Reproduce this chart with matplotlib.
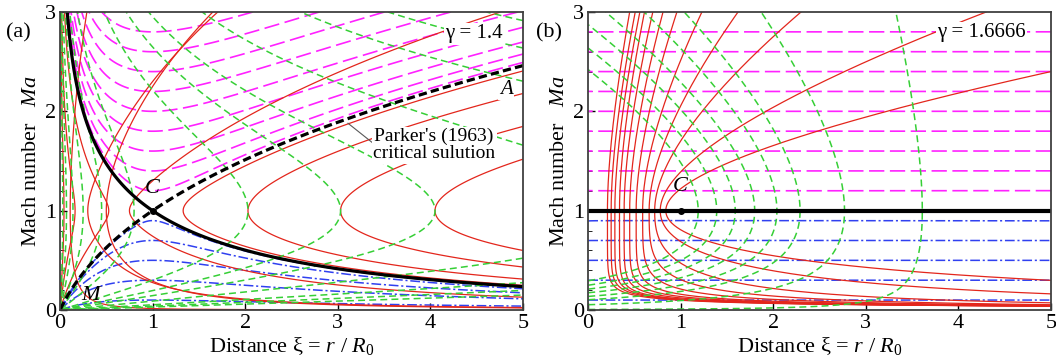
import numpy as np
import matplotlib.pyplot as plt

plt.rcParams['font.family'] = ['Liberation Serif', 'DejaVu Serif']
plt.rcParams['mathtext.fontset'] = 'custom'
plt.rcParams['mathtext.rm'] = 'Liberation Serif'
plt.rcParams['mathtext.it'] = 'Liberation Serif:italic'
plt.rcParams['lines.scale_dashes'] = False

# ===== values =====
gammas = [1.4, 1.6666]
panel_tags = ['(a)', '(b)']
gamma_texts = ['γ = 1.4', 'γ = 1.6666']

# Mach number where the magenta (supersonic) / blue (subsonic) curves cross xi = 1
ma_super = [1.2, 1.4, 1.6, 1.8, 2.0, 2.2, 2.4, 2.6, 2.8]
ma_sub = [0.1, 0.3, 0.5, 0.7, 0.9]

# (a) red curves through the right sector: turning xi at Ma = 1
red_turn_a = [1.33, 2.03, 3.03, 4.05]
# (a) other red curves: two points (xi, Ma) each one goes through
red_pairs_a = [((0.11, 1.0), (0.29, 3.0)),
               ((0.3, 1.0), (1.0, 2.3)),
               ((0.5, 1.0), (1.65, 3.0)),
               ((0.75, 1.0), (2.9, 2.35))]
# (a) green curves: xi where they turn at Ma = 1
green_turn_a = [0.03, 0.07, 0.14, 0.25, 0.45, 0.8, 2.03, 3.03, 4.05,
                6.5, 11.0, 15.0, 19.5]

# (b) red curves: turning xi at Ma = 1 and xi where the upper branch reaches Ma = 3
red_turn_b = [0.21, 0.25, 0.29, 0.34, 0.39, 0.45, 0.52, 0.59, 0.66, 0.72, 0.78, 0.84]
red_top_b = [0.45, 0.51, 0.56, 0.61, 0.70, 0.81, 0.96, 1.23, 1.62, 2.3, 4.3, 8.2]
# (b) green curves: turning xi at Ma = 1, common energy level
green_turn_b = [1.19, 1.39, 1.59, 1.8, 2.04, 2.29, 2.77, 3.61]
green_energy_b = -0.25

critical_ma = 1.0


def alpha(g):
    return 2 * (g - 1) / (g + 1)


def enth(ma, g):
    return 0.5 * ma ** 2 + 1 / (g - 1)


def phi(ma, g):
    return ma ** (-alpha(g)) * enth(ma, g) / enth(1.0, g)


def energy(xi, ma, g, a=1.0):
    return 0.5 * a * (ma * xi ** 2) ** (-alpha(g)) * enth(ma, g) - 1 / xi


def flux(xi, ma, g, e):
    return 2 * (e + 1 / xi) * (ma * xi ** 2) ** alpha(g) / enth(ma, g)


def e_crit(g):
    return enth(1.0, g) / 2 - 1


def through(p1, p2, g):
    # (a, e) of the solution curve passing through two points
    k1 = (p1[1] * p1[0] ** 2) ** (-alpha(g)) * enth(p1[1], g)
    k2 = (p2[1] * p2[0] ** 2) ** (-alpha(g)) * enth(p2[1], g)
    a = 2 * (1 / p1[0] - 1 / p2[0]) / (k1 - k2)
    return a, a * k1 / 2 - 1 / p1[0]


RED = '#e3261c'
GREEN = '#36cf36'
MAG = '#ff22ff'
BLUE = '#3040f0'

xi = np.linspace(0.003, 5, 700)
ma = np.linspace(0.003, 3, 650)
X, M = np.meshgrid(xi, ma)

fig = plt.figure(figsize=(10.56, 3.62), dpi=100)
ax_a = fig.add_axes([60 / 1056, 52 / 362, 463 / 1056, 298 / 362])
ax_b = fig.add_axes([588 / 1056, 52 / 362, 463 / 1056, 298 / 362])

for ax, g in zip([ax_a, ax_b], gammas):
    ec = e_crit(g)
    Ac = flux(X, M, g, ec)
    lv = np.sort(flux(1.0, np.array(ma_super), g, ec))
    ax.contour(X, M, np.ma.masked_where(M < 1, Ac), levels=lv, colors=MAG,
               linewidths=1.2, linestyles=[(0, (11, 4))])
    lv = np.sort(flux(1.0, np.array(ma_sub), g, ec))
    ax.contour(X, M, np.ma.masked_where(M > 1, Ac), levels=lv, colors=BLUE,
               linewidths=1.1, linestyles=[(0, (7, 2, 1.5, 2))])

# ---- panel (a) ----
g = gammas[0]
E1 = energy(X, M, g)
lv = np.sort(energy(np.array(red_turn_a), 1.0, g))
ax_a.contour(X, M, np.ma.masked_where(X < 1, E1), levels=lv, colors=RED,
             linewidths=0.9, linestyles='solid')
for p1, p2 in red_pairs_a:
    a, e = through(p1, p2, g)
    ax_a.contour(X, M, energy(X, M, g, a), levels=[e], colors=RED,
                 linewidths=0.9, linestyles='solid')
A0 = flux(X, M, g, 0.0)
lv = np.sort(flux(np.array(green_turn_a), 1.0, g, 0.0))
ax_a.contour(X, M, A0, levels=lv, colors=GREEN, linewidths=1.1,
             linestyles=[(0, (5, 3))])
Ac = flux(X, M, g, e_crit(g))
crit = flux(1.0, 1.0, g, e_crit(g))
quad = (X - 1) * (M - 1)
ax_a.contour(X, M, np.ma.masked_where(quad > 0, Ac), levels=[crit],
             colors='k', linewidths=2.3)
ax_a.contour(X, M, np.ma.masked_where(quad < 0, Ac), levels=[crit],
             colors='k', linewidths=2.3, linestyles=[(0, (6, 3))])
ax_a.plot([1], [1], 'o', color='k', ms=4)

# ---- panel (b) ----
g = gammas[1]
ma_lo = np.geomspace(0.002, 1.0, 500)
ma_hi = np.linspace(1.0, 3.0, 200)
s_top = phi(3.0, g) - 1
for v, t in zip(red_turn_b, red_top_b):
    k = (t - v) / s_top
    p = 1 + 2.4 * np.exp(-k / 0.8)      # subsonic branches hug the wall
    xs = np.concatenate([v + k * (phi(ma_lo, g) - 1) ** p,
                         v + k * (phi(ma_hi, g) - 1)])
    ms = np.concatenate([ma_lo, ma_hi])
    ax_b.plot(xs, ms, color=RED, lw=0.9)
Ag = flux(X, M, g, green_energy_b)
lv = np.sort(flux(np.array(green_turn_b), 1.0, g, green_energy_b))
ax_b.contour(X, M, Ag, levels=lv, colors=GREEN, linewidths=1.1,
             linestyles=[(0, (5, 3))])
ax_b.axhline(critical_ma, color='k', lw=3.0)
ax_b.plot([1], [1], 'o', color='k', ms=4)

# ---- text ----
box = dict(facecolor='white', edgecolor='none', pad=1)
ax_a.text(4.16, 2.78, gamma_texts[0], fontsize=15, va='center', bbox=box)
ax_b.text(3.77, 2.79, gamma_texts[1], fontsize=15, va='center', bbox=box)
ax_a.text(4.82, 2.22, 'A', fontsize=15, style='italic', ha='center', va='center', bbox=box)
ax_a.text(4.04, 1.66, "Parker's (1963)\ncritical sulution", fontsize=14,
          ha='center', va='center', linespacing=1.0, bbox=box)
ax_a.plot([3.11, 3.38], [1.88, 1.68], color='0.35', lw=0.8)
ax_a.text(1.0, 1.22, 'C', fontsize=16, style='italic', ha='center', va='center')
ax_b.text(1.0, 1.24, 'C', fontsize=16, style='italic', ha='center', va='center')
ax_a.text(0.33, 0.15, 'M', fontsize=16, style='italic', ha='center', va='center')
fig.text(18 / 1056, 1 - 33 / 362, panel_tags[0], fontsize=16, ha='center', va='center')
fig.text(549 / 1056, 1 - 33 / 362, panel_tags[1], fontsize=16, ha='center', va='center')

for ax in [ax_a, ax_b]:
    ax.set_xlim(0, 5)
    ax.set_ylim(0, 3)
    ax.set_xticks([0, 1, 2, 3, 4, 5])
    ax.set_yticks([0, 1, 2, 3])
    ax.set_yticks(np.arange(0, 3.01, 0.2), minor=True)
    ax.tick_params(direction='in', labelsize=16, length=5, width=1.0, pad=3)
    ax.tick_params(which='minor', direction='in', length=3)
    ax.set_xlabel(r'Distance ξ = $r$ / $R_0$', fontsize=16, labelpad=1)
    ax.set_ylabel(r'Mach number   $Ma$', fontsize=16, labelpad=3)
    for s in ax.spines.values():
        s.set_linewidth(1.3)
        s.set_color('0.25')

fig.savefig('out.png', dpi=100)
